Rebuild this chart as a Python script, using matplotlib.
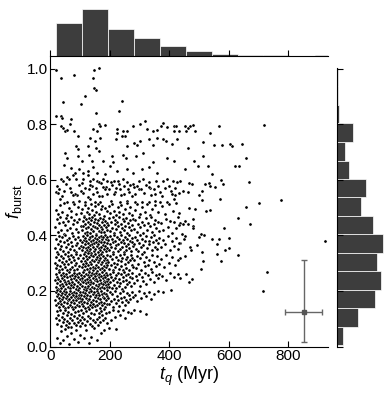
import matplotlib
matplotlib.use('Agg')
import matplotlib.pyplot as plt
import numpy as np

plt.rcParams['font.family'] = ['Liberation Sans', 'DejaVu Sans']
plt.rcParams['mathtext.fontset'] = 'custom'
plt.rcParams['mathtext.rm'] = 'Liberation Sans'
plt.rcParams['mathtext.it'] = 'Liberation Sans:italic'

# ---- marginal histograms ----
t_edges = [19, 106, 193, 280, 368, 455, 542, 629, 716, 803, 890, 977]
t_counts = [317, 457, 263, 177, 93, 40, 17, 7, 3, 0, 3]
f_edges = [0.004, 0.071, 0.137, 0.204, 0.271, 0.337, 0.404, 0.470,
           0.537, 0.604, 0.670, 0.737, 0.804, 0.870, 0.937, 1.003]
f_counts = [28, 95, 179, 205, 188, 213, 168, 111, 136, 55, 38, 74, 9, 3, 4]

# ---- typical uncertainty (error bar in the corner) ----
err_t, err_f = 851, 0.126
err_dt = 62
err_df = [[0.111], [0.184]]

# ---- scatter points (t_q in Myr, f_burst) ----
pts_top = [(19,0.995),(35,0.967),(80,0.977),(147,0.997),(145,0.967),(165,1.003),(148,0.932),
           (154,0.924),(44,0.880),(102,0.874),(117,0.904),(154,0.842),(231,0.847),(242,0.884),
           (19,0.830),(35,0.830),(38,0.824),(68,0.818),(66,0.802),(165,0.801),(318,0.813),
           (378,0.806),(302,0.800)]
pts_band11 = [(167,0.794),(185,0.799),(35,0.793),(42,0.787),(51,0.777),(57,0.780),(80,0.776),
              (94,0.760),(145,0.784),(156,0.777),(223,0.784),(225,0.770),(245,0.775),(259,0.778),
              (251,0.757),(277,0.796),(326,0.784),(344,0.778),(357,0.780),(371,0.794),(391,0.790),
              (414,0.794),(423,0.796),(416,0.775),(431,0.775),(134,0.751),(150,0.742),(167,0.751),
              (221,0.748),(240,0.760),(281,0.734),(302,0.742),(330,0.748),(360,0.751),(380,0.746),
              (389,0.739),(425,0.748),(453,0.796),(464,0.787),(470,0.793),(481,0.799),(456,0.775),
              (486,0.775),(537,0.770),(568,0.796),(719,0.799)]
pts_band10 = [(344,0.727),(408,0.730),(86,0.722),(94,0.712),(125,0.724),(154,0.715),(259,0.722),
              (290,0.727),(313,0.698),(49,0.698),(55,0.679),(94,0.688),(131,0.691),(165,0.706),
              (176,0.670),(206,0.688),(245,0.691),(254,0.681),(288,0.688),(391,0.679),(414,0.670),
              (512,0.736),(463,0.717),(551,0.727),(576,0.727),(604,0.730),(612,0.722),(643,0.728),
              (512,0.688),(658,0.679)]
pts_band9 = [(105,0.667),(139,0.669),(346,0.664),(330,0.646),(46,0.655),(68,0.643),(83,0.626),
             (75,0.619),(98,0.638),(109,0.626),(128,0.634),(143,0.646),(156,0.626),(184,0.622),
             (201,0.650),(212,0.664),(223,0.634),(257,0.640),(279,0.626),(307,0.640),(360,0.626),
             (128,0.619),(57,0.610),(484,0.668),(496,0.649),(531,0.652),(619,0.652),(634,0.652),
             (452,0.640),(544,0.623)]
pts_band8 = [(35,0.602),(44,0.595),(64,0.602),(86,0.602),(111,0.603),(134,0.595),(143,0.603),
             (156,0.598),(165,0.592),(178,0.602),(190,0.595),(203,0.592),(214,0.597),(229,0.595),
             (243,0.602),(259,0.592),(279,0.586),(299,0.595),(310,0.602),(330,0.592),(355,0.595),
             (380,0.598),(391,0.602),(411,0.598),(427,0.592),
             (19,0.558),(27,0.554),(46,0.562),(69,0.556),(89,0.546),(102,0.562),(111,0.554),
             (131,0.566),(145,0.550),(158,0.558),(173,0.544),(187,0.574),(198,0.566),(217,0.556),
             (234,0.566),(248,0.550),(266,0.558),(281,0.574),(299,0.566),(315,0.554),(335,0.570),
             (352,0.550),(369,0.558),(386,0.570),(405,0.562),(419,0.546),(434,0.554),
             (436,0.598),(574,0.601),(465,0.589),(476,0.584),(519,0.585),(532,0.589),(535,0.580),
             (579,0.584),(554,0.573),(666,0.592),(445,0.562),(463,0.556),(508,0.562),(499,0.546),
             (22,0.578),(38,0.541),(53,0.585),(66,0.571),(84,0.548),(97,0.582),(115,0.571),
             (125,0.539),(139,0.580),(152,0.570),(163,0.541),(178,0.576),(192,0.548),(207,0.582),
             (221,0.572),(238,0.545),(249,0.579),(262,0.568),(275,0.542),(290,0.578),(305,0.569),
             (320,0.581),(338,0.546),(362,0.577),(375,0.543),(398,0.580),(420,0.571),(30,0.566),
             (75,0.545),(105,0.588),(132,0.581),(170,0.590),(185,0.566),(214,0.551),(230,0.586),
             (268,0.583),(284,0.551),(330,0.574),(350,0.568),(408,0.548)]
pts_band7 = [(33,0.530),(55,0.520),(77,0.522),(98,0.526),(117,0.520),(134,0.530),(150,0.520),
             (167,0.522),(203,0.526),(234,0.520),(257,0.525),(285,0.520),(307,0.522),(330,0.520),
             (352,0.526),(369,0.520),(391,0.522),(414,0.530),(509,0.529),(570,0.531),(701,0.518),
             (774,0.529),(467,0.500),(485,0.496),(522,0.489),(537,0.491),(659,0.501),
             (19,0.492),(26,0.478),(33,0.509),(40,0.485),(47,0.516),(55,0.473),(62,0.499),
             (70,0.488),(78,0.512),(86,0.476),(94,0.503),(102,0.481),
             (108,0.497),(113,0.472),(117,0.511),(122,0.486),(127,0.500),(131,0.479),(136,0.515),
             (141,0.491),(146,0.474),(150,0.506),(155,0.483),(160,0.513),(164,0.477),(169,0.494),
             (174,0.508),(179,0.471),(184,0.498),(189,0.487),
             (196,0.505),(202,0.480),(208,0.514),(214,0.490),(220,0.473),(226,0.502),(232,0.486),
             (238,0.511),(244,0.478),(250,0.496),(257,0.516),(263,0.482),(269,0.501),(275,0.475),
             (284,0.493),(292,0.512),(300,0.479),(309,0.503),(317,0.485),(325,0.515),(334,0.474),
             (343,0.497),(352,0.509),(361,0.483),
             (374,0.505),(387,0.478),(399,0.512),(411,0.490),(422,0.517),(432,0.482)]
pts_far = [(479,0.458),(454,0.452),(436,0.444),(447,0.442),(461,0.440),(481,0.435),(479,0.428),
           (584,0.428),(629,0.464),(671,0.443),(443,0.406),(452,0.398),(449,0.388),(505,0.407),
           (518,0.400),(499,0.394),(544,0.387),(568,0.386),(600,0.390),(436,0.372),(494,0.366),
           (559,0.370),(470,0.360),(473,0.349),(588,0.346),(602,0.354),(508,0.340),(559,0.332),
           (631,0.330),(436,0.320),(454,0.326),(514,0.309),(573,0.309),(505,0.279),(457,0.262),
           (436,0.247),(476,0.244),(465,0.231),(727,0.268),(713,0.201),(922,0.381)]
pts_band6 = [(17,0.430),(21,0.458),(25,0.412),(29,0.444),(33,0.467),(37,0.421),(41,0.449),
             (45,0.406),(49,0.437),(53,0.462),(57,0.418),(61,0.452),(65,0.428),(69,0.465),
             (73,0.409),(77,0.441),(81,0.456),(85,0.424),(90,0.447),(94,0.414),(98,0.460),
             (103,0.434),
             (107,0.419),(109,0.452),(111,0.436),(113,0.466),(115,0.408),(117,0.443),(119,0.427),
             (121,0.459),(124,0.413),(126,0.447),(128,0.432),(130,0.463),(132,0.410),(134,0.440),
             (136,0.455),(138,0.423),(141,0.468),(143,0.435),(145,0.415),(147,0.450),(149,0.429),
             (151,0.461),(154,0.407),(156,0.444),(158,0.426),(160,0.457),(162,0.417),(164,0.439),
             (167,0.464),(169,0.431),(171,0.411),(173,0.448),(175,0.425),(177,0.460),(180,0.438),
             (182,0.412),(184,0.454),(186,0.429),(189,0.445),(191,0.418),
             (195,0.437),(198,0.462),(201,0.415),(204,0.449),(207,0.428),(210,0.466),(213,0.409),
             (216,0.441),(219,0.455),(222,0.422),(225,0.447),(228,0.433),(231,0.468),(234,0.412),
             (237,0.443),(240,0.426),(243,0.459),(246,0.418),(249,0.451),(252,0.436),(255,0.464),
             (258,0.410),(261,0.445),(264,0.429),(267,0.457),(270,0.420),(273,0.439),(277,0.461),
             (282,0.425),(286,0.455),(290,0.412),(295,0.441),(299,0.466),(303,0.430),(307,0.450),
             (312,0.408),(316,0.437),(320,0.462),(325,0.421),(329,0.446),(334,0.433),(338,0.468),
             (343,0.414),(347,0.442),(352,0.457),(356,0.427),(361,0.449),(365,0.416),
             (372,0.444),(380,0.418),(388,0.461),(395,0.432),(403,0.453),(410,0.410),(417,0.447),
             (423,0.426),(428,0.465),(433,0.437)]
pts_band5 = [(16,0.356),(19,0.389),(22,0.342),(25,0.371),(28,0.398),(31,0.351),(34,0.380),
             (37,0.362),(40,0.394),(43,0.345),(46,0.375),(49,0.402),(52,0.358),(55,0.384),
             (58,0.340),(61,0.368),(64,0.392),(67,0.353),(70,0.378),(73,0.361),(76,0.399),
             (79,0.347),(82,0.386),(85,0.366),(88,0.339),(91,0.372),(94,0.396),(97,0.355),
             (100,0.382),(103,0.363),
             (107,0.349),(108,0.376),(110,0.397),(111,0.358),(113,0.385),(115,0.341),(116,0.369),
             (118,0.392),(119,0.354),(121,0.379),(122,0.401),(124,0.346),(126,0.373),(127,0.360),
             (129,0.388),(130,0.343),(132,0.366),(134,0.395),(135,0.352),(137,0.381),(138,0.338),
             (140,0.371),(141,0.399),(143,0.357),(145,0.384),(146,0.345),(148,0.374),(149,0.391),
             (151,0.350),(153,0.377),(154,0.403),(156,0.362),(157,0.387),(159,0.342),(161,0.370),
             (162,0.394),(164,0.355),(165,0.380),(167,0.348),(169,0.375),(170,0.398),(172,0.359),
             (173,0.386),(175,0.340),(177,0.367),(178,0.393),(180,0.353),(181,0.378),(183,0.402),
             (185,0.361),(186,0.389),(188,0.344),(189,0.372),(191,0.396),(192,0.356),
             (194,0.383),(196,0.347),(199,0.371),(201,0.398),(204,0.360),(206,0.387),(209,0.341),
             (211,0.375),(213,0.401),(216,0.354),(218,0.380),(221,0.366),(223,0.393),(226,0.344),
             (228,0.369),(231,0.389),(233,0.351),(236,0.377),(238,0.400),(241,0.358),(243,0.384),
             (246,0.339),(248,0.373),(251,0.395),(253,0.363),(256,0.348),(258,0.386),(261,0.370),
             (263,0.403),(266,0.355),(268,0.381),(271,0.345),(273,0.376),(276,0.392),(278,0.361),
             (281,0.370),(284,0.396),(288,0.352),(291,0.383),(295,0.343),(298,0.374),(302,0.400),
             (305,0.358),(309,0.387),(312,0.365),(316,0.340),(319,0.379),(323,0.397),(326,0.354),
             (330,0.381),(333,0.368),(337,0.393),(341,0.347),(344,0.376),(348,0.402),(351,0.360),
             (355,0.385),(358,0.350),(362,0.373),(365,0.391),
             (371,0.357),(379,0.384),(386,0.368),(394,0.398),(401,0.346),(409,0.379),(416,0.362),
             (423,0.392),(429,0.351),(434,0.374)]
pts_band4 = [(15,0.301),(18,0.283),(20,0.322),(23,0.294),(25,0.335),(28,0.275),(30,0.312),
             (33,0.289),(35,0.327),(38,0.306),(40,0.279),(43,0.318),(45,0.296),(48,0.333),
             (50,0.285),(53,0.309),(55,0.274),(58,0.325),(60,0.299),(63,0.315),(65,0.281),
             (68,0.330),(70,0.304),(73,0.288),(75,0.321),(78,0.276),(80,0.311),(83,0.293),
             (85,0.334),(88,0.302),(90,0.280),(93,0.319),(96,0.290),(99,0.328),(103,0.307),
             (107,0.286),(109,0.318),(110,0.297),(112,0.333),(114,0.274),(116,0.309),(117,0.290),
             (119,0.326),(121,0.302),(123,0.279),(124,0.315),(126,0.336),(128,0.293),(130,0.271),
             (131,0.321),(133,0.305),(135,0.284),(137,0.330),(138,0.298),(140,0.312),(142,0.277),
             (144,0.325),(145,0.288),(147,0.308),(149,0.334),(151,0.282),(152,0.316),(154,0.295),
             (156,0.273),(158,0.323),(159,0.303),(161,0.287),(163,0.331),(165,0.310),(166,0.278),
             (168,0.319),(170,0.296),(172,0.335),(173,0.283),(175,0.306),(177,0.327),(179,0.291),
             (180,0.313),(182,0.275),(184,0.320),(186,0.300),(187,0.285),(189,0.329),(191,0.311),
             (192,0.294),
             (195,0.305),(198,0.281),(201,0.326),(204,0.294),(207,0.317),(210,0.275),(212,0.333),
             (215,0.302),(218,0.286),(221,0.321),(224,0.296),(227,0.312),(230,0.279),(233,0.329),
             (236,0.307),(238,0.289),(241,0.318),(244,0.274),(247,0.335),(250,0.298),(253,0.315),
             (256,0.283),(259,0.324),(262,0.303),(265,0.277),(268,0.310),(270,0.331),(273,0.292),
             (275,0.319),(278,0.287),
             (282,0.310),(287,0.283),(291,0.327),(296,0.298),(300,0.318),(305,0.276),(309,0.334),
             (314,0.303),(318,0.289),(323,0.322),(328,0.295),(333,0.313),(338,0.280),(343,0.330),
             (349,0.306),(354,0.291),(359,0.325),(365,0.299),
             (372,0.315),(381,0.288),(390,0.330),(399,0.302),(409,0.321),(419,0.294),(430,0.312)]
pts_band3 = [(16,0.238),(18,0.214),(20,0.261),(22,0.229),(24,0.252),(26,0.208),(27,0.244),
             (29,0.267),(31,0.221),(33,0.235),(35,0.258),(36,0.211),(38,0.247),(40,0.226),
             (42,0.264),(44,0.218),(45,0.241),(47,0.255),(49,0.206),(51,0.233),(53,0.262),
             (54,0.224),(56,0.249),(58,0.216),(60,0.237),(62,0.268),(63,0.228),(65,0.253),
             (67,0.209),(69,0.243),(71,0.222),(72,0.259),(74,0.234),(76,0.213),(78,0.266),
             (80,0.246),(81,0.227),(83,0.255),(85,0.207),(87,0.239),(89,0.262),(90,0.219),
             (92,0.250),(94,0.231),(96,0.265),(98,0.212),(99,0.244),(101,0.226),(103,0.257),
             (105,0.236),
             (107,0.219),(108,0.248),(110,0.267),(111,0.231),(113,0.206),(114,0.254),(116,0.239),
             (117,0.214),(119,0.262),(120,0.228),(122,0.245),(123,0.209),(125,0.258),(126,0.234),
             (128,0.217),(129,0.251),(131,0.269),(132,0.225),(134,0.241),(135,0.207),(137,0.256),
             (138,0.232),(140,0.264),(141,0.215),(143,0.247),(144,0.229),(146,0.260),(147,0.211),
             (149,0.238),(150,0.253),(152,0.222),(153,0.266),(155,0.243),(156,0.208),(158,0.235),
             (159,0.257),(161,0.218),(162,0.249),(164,0.227),(165,0.263),(167,0.212),(168,0.240),
             (170,0.255),(171,0.230),(173,0.268),(174,0.216),(176,0.246),(177,0.224),(179,0.259),
             (180,0.236),(182,0.210),(183,0.252),(185,0.233),(186,0.265),(188,0.220),(189,0.244),
             (190,0.213),(191,0.258),(192,0.237),(193,0.226),
             (195,0.242),(197,0.216),(200,0.263),(202,0.231),(205,0.250),(207,0.209),(210,0.238),
             (212,0.267),(215,0.222),(217,0.247),(220,0.212),(222,0.256),(225,0.234),(227,0.265),
             (230,0.219),(232,0.244),(235,0.228),(237,0.260),(240,0.207),(243,0.249),(245,0.236),
             (248,0.268),(250,0.214),(253,0.241),(256,0.257),(258,0.225),(261,0.262),(264,0.232),
             (267,0.251),(270,0.218),(273,0.246),(276,0.264),
             (282,0.228),(287,0.255),(292,0.241),(297,0.263),(302,0.219),(307,0.249),(312,0.236),
             (318,0.266),(323,0.226),(329,0.257),(335,0.243),(341,0.268),(347,0.232),(354,0.259),
             (361,0.247),(366,0.262),
             (375,0.255),(388,0.238),(401,0.266),(415,0.249),(428,0.260)]
pts_band2 = [(16,0.168),(18,0.195),(20,0.149),(22,0.181),(23,0.203),(25,0.158),(27,0.188),
             (28,0.142),(30,0.174),(32,0.199),(33,0.164),(35,0.185),(37,0.153),(38,0.192),
             (40,0.171),(42,0.146),(43,0.178),(45,0.201),(47,0.161),(48,0.190),(50,0.139),
             (52,0.175),(53,0.197),(55,0.156),(57,0.183),(58,0.167),(60,0.144),(62,0.188),
             (63,0.172),(65,0.200),(67,0.151),(68,0.179),(70,0.162),(72,0.194),(73,0.141),
             (75,0.184),(77,0.169),(78,0.198),(80,0.155),(82,0.177),(83,0.143),(85,0.191),
             (87,0.166),(88,0.182),(90,0.150),(92,0.202),(93,0.173),(95,0.159),(97,0.187),
             (98,0.145),(100,0.176),(101,0.196),(103,0.163),(104,0.185),(106,0.152),
             (107,0.171),(109,0.198),(110,0.146),(112,0.183),(114,0.160),(116,0.192),(117,0.139),
             (119,0.176),(121,0.203),(123,0.155),(124,0.187),(126,0.166),(128,0.143),(130,0.195),
             (131,0.172),(133,0.151),(135,0.181),(137,0.200),(138,0.162),(140,0.141),(142,0.189),
             (144,0.169),(145,0.153),(147,0.197),(149,0.178),(151,0.145),(152,0.186),(154,0.164),
             (156,0.201),(158,0.149),(159,0.174),(161,0.192),(163,0.157),(165,0.184),(166,0.140),
             (168,0.170),(170,0.199),(172,0.161),(173,0.188),(175,0.148),(177,0.179),(179,0.194),
             (180,0.158),(182,0.173),(184,0.144),(186,0.190),(187,0.167),(189,0.203),(191,0.154),
             (192,0.182),
             (195,0.176),(198,0.152),(201,0.195),(205,0.163),(208,0.188),(211,0.141),(215,0.171),
             (218,0.199),(221,0.157),(225,0.183),(228,0.166),(231,0.147),(235,0.192),(238,0.174),
             (242,0.159),(245,0.201),(248,0.180),(252,0.150),(255,0.168),(259,0.194),(262,0.162),
             (266,0.185),(269,0.172),(273,0.197),(277,0.178),
             (284,0.187),(291,0.165),(299,0.200),(306,0.176),(314,0.192),(322,0.183),(331,0.197),
             (339,0.171),(350,0.190),(362,0.200),(378,0.196),(404,0.203)]
pts_band1 = [(18,0.102),(21,0.128),(24,0.081),(27,0.115),(30,0.094),(33,0.133),(35,0.073),
             (38,0.108),(41,0.121),(44,0.087),(46,0.099),(49,0.131),(52,0.076),(55,0.112),
             (57,0.091),(60,0.126),(62,0.083),(65,0.104),(68,0.118),(70,0.072),(73,0.097),
             (76,0.135),(79,0.086),(81,0.109),(84,0.123),(87,0.078),(89,0.101),(92,0.129),
             (94,0.089),(97,0.114),(99,0.074),(101,0.095),(103,0.132),(105,0.107),(58,0.070),
             (108,0.084),(111,0.119),(114,0.098),(117,0.076),(120,0.127),(123,0.091),(126,0.111),
             (129,0.134),(132,0.081),(135,0.103),(138,0.122),(141,0.073),(144,0.095),(147,0.116),
             (150,0.087),(153,0.131),(156,0.099),(159,0.078),(162,0.121),(165,0.105),(168,0.089),
             (171,0.128),(174,0.113),(177,0.094),(181,0.136),(184,0.102),(188,0.119),(191,0.085),
             (196,0.124),(203,0.097),(211,0.133),(219,0.108),(226,0.128),(234,0.115),(243,0.131),
             (252,0.103),(262,0.125),(271,0.119),(282,0.132),(300,0.128),(321,0.118)]
pts_band0 = [(24,0.031),(31,0.012),(37,0.055),(43,0.022),(49,0.064),(56,0.038),(63,0.009),
             (71,0.047),(78,0.026),(86,0.061),(93,0.016),(101,0.043),(112,0.029),(121,0.058),
             (129,0.011),(138,0.036),(147,0.066),(158,0.024),(169,0.049),(181,0.059),(197,0.068),
             (222,0.063)]

pts = np.array(pts_top + pts_band11 + pts_band10 + pts_band9 + pts_band8 + pts_band7
               + pts_far + pts_band6 + pts_band5 + pts_band4 + pts_band3 + pts_band2
               + pts_band1 + pts_band0)
t_q = pts[:, 0]
f_burst = pts[:, 1]

W, H = 391, 393
fig = plt.figure(figsize=(W / 100, H / 100), dpi=100)
x0, x1 = 50.3, 328.0
y0, y1 = 346.5, 55.5
ax = fig.add_axes([x0 / W, 1 - y0 / H, (x1 - x0) / W, (y0 - y1) / H])
ax_top = fig.add_axes([x0 / W, 1 - y1 / H, (x1 - x0) / W, y1 / H])
ax_right = fig.add_axes([337.3 / W, 1 - y0 / H, (W - 337.3) / W, 278.9 / H])

bar_color = '#3d3d3d'

# main scatter
ax.scatter(t_q, f_burst, s=5, c='black', edgecolors='white', linewidths=0.25, zorder=2)
ax.errorbar(err_t, err_f, xerr=err_dt, yerr=err_df, fmt='s', ms=2.5, color='#555555',
            ecolor='#666666', elinewidth=1, capsize=2.5, capthick=1, zorder=3)
ax.set_xlim(0, 933)
ax.set_ylim(0, 1.0486)
ax.set_xticks([0, 200, 400, 600, 800])
ax.set_yticks([0.0, 0.2, 0.4, 0.6, 0.8, 1.0])
ax.set_yticklabels(['0.0', '0.2', '0.4', '0.6', '0.8', '1.0'])
for s in ['top', 'right']:
    ax.spines[s].set_visible(False)
for s in ['left', 'bottom']:
    ax.spines[s].set_linewidth(0.8)
ax.tick_params(direction='in', length=4, width=0.8, labelsize=11, pad=2)
ax.set_xlabel(r'$t_q$ (Myr)', fontsize=13, labelpad=1)
ax.set_ylabel(r'$f_{\rm burst}$', fontsize=13, labelpad=2)

# top marginal
ax_top.bar(t_edges[:-1], t_counts, width=np.diff(t_edges), align='edge',
           color=bar_color, edgecolor='white', linewidth=0.5)
ax_top.set_xlim(0, 933)
ax_top.set_ylim(0, max(t_counts) * 1.2)
for s in ['top', 'left', 'right']:
    ax_top.spines[s].set_visible(False)
ax_top.spines['bottom'].set_linewidth(0.8)
ax_top.set_xticks([0, 200, 400, 600, 800])
ax_top.tick_params(axis='x', direction='in', length=4, width=0.8, labelbottom=False)
ax_top.set_yticks([])
ax_top.patch.set_alpha(0)

# right marginal
ax_right.barh(f_edges[:-1], f_counts, height=np.diff(f_edges), align='edge',
              color=bar_color, edgecolor='white', linewidth=0.5)
ax_right.set_ylim(0, 1.005)
ax_right.set_xlim(0, max(f_counts) * 1.185)
for s in ['top', 'right', 'bottom']:
    ax_right.spines[s].set_visible(False)
ax_right.spines['left'].set_linewidth(0.8)
ax_right.set_yticks([0.0, 0.2, 0.4, 0.6, 0.8, 1.0])
ax_right.tick_params(axis='y', direction='in', length=4, width=0.8, labelleft=False)
ax_right.set_xticks([])
ax_right.patch.set_alpha(0)

fig.savefig('out.png', dpi=100)
